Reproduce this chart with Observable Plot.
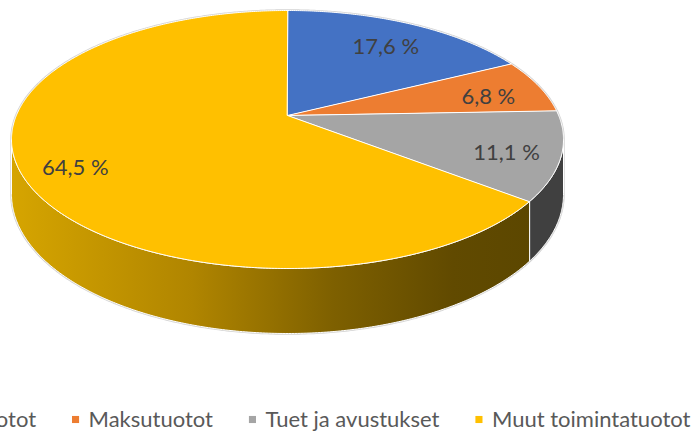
<!DOCTYPE html>
<html>
<head>
<meta charset="utf-8">
<script src="https://cdn.jsdelivr.net/npm/d3@7"></script>
<script src="https://cdn.jsdelivr.net/npm/@observablehq/plot@0.6"></script>
<style>
  html, body { margin: 0; padding: 0; background: #fff; overflow: hidden; }
</style>
</head>
<body>
<div id="chart"></div>
<script>
// ---- data ----
const categories = ["Myyntituotot", "Maksutuotot", "Tuet ja avustukset", "Muut toimintatuotot"];
const values = [17.6, 6.8, 11.1, 64.5];
const valueLabels = ["17,6 %", "6,8 %", "11,1 %", "64,5 %"];
const topColors = ["#4472C4", "#ED7D31", "#A5A5A5", "#FFC000"];
const sideColors = ["#2B4A80", "#9A501F", "#404040", "url(#sideGold)"];

// ---- layout ----
const W = 699, H = 432;
const cx = 287, apexY = 115, topY = 10, botY = 268, halfW = 276, depthFront = 65;
const k = (2 * apexY - topY - botY) / (topY - botY);
const dCoef = topY * (1 + k) - apexY;
const aCoef = halfW * Math.sqrt(1 - k * k);
const eCoef = depthFront * (1 - k);

function project(theta, r, z) {
  const u = r * Math.sin(theta), v = r * Math.cos(theta);
  const w = 1 + k * v;
  return {x: cx + aCoef * u / w, y: (apexY + dCoef * v + eCoef * z) / w};
}
function arc(a0, a1, z) {
  const n = Math.max(2, Math.ceil(Math.abs(a1 - a0) / (Math.PI / 360)));
  return d3.range(n + 1).map(i => project(a0 + (a1 - a0) * i / n, 1, z));
}

const total = d3.sum(values);
let acc = 0;
const slices = values.map((v, i) => {
  const a0 = acc / total * 2 * Math.PI;
  acc += v;
  const a1 = acc / total * 2 * Math.PI;
  return {i, a0, a1, mid: (a0 + a1) / 2};
});

const sil1 = Math.acos(-k), sil2 = 2 * Math.PI - Math.acos(-k);

// outline (silhouette)
const outline = [...arc(sil2, sil1 + 2 * Math.PI, 0), ...arc(sil1, sil2, 1)]
  .map(p => ({...p, id: "outline"}));

// side faces
const sideRows = [];
slices.forEach(s => {
  const a = Math.max(s.a0, sil1), b = Math.min(s.a1, sil2);
  if (a < b) {
    [...arc(a, b, 0), ...arc(b, a, 1)].forEach(p =>
      sideRows.push({...p, id: "side" + s.i, fill: sideColors[s.i]}));
  }
});

// top faces
const topRows = [];
slices.forEach(s => {
  [project(0, 0, 0), ...arc(s.a0, s.a1, 0)].forEach(p =>
    topRows.push({...p, id: "top" + s.i, fill: topColors[s.i]}));
});

// labels
const boxCy = (topY + botY) / 2;
const labelRows = slices.map(s => {
  const E = project(s.mid, 1, 0);
  return {x: cx + 0.8 * (E.x - cx), y: boxCy + 0.8 * (E.y - boxCy), text: valueLabels[s.i]};
});

// legend layout
const legendFont = "22px Lato";
const ctx = document.createElement("canvas").getContext("2d");
ctx.font = legendFont;
const markerSize = 7, markerGap = 9.5, itemGap = 36, legendCenter = 290, legendY = 419;
const widths = categories.map(c => ctx.measureText(c).width);
const legendTotal = d3.sum(widths) + categories.length * (markerSize + markerGap) + (categories.length - 1) * itemGap;
let lx = legendCenter - legendTotal / 2;
const legendRows = categories.map((c, i) => {
  const row = {mx: lx + markerSize / 2, tx: lx + markerSize + markerGap, y: legendY, name: c, color: topColors[i]};
  lx += markerSize + markerGap + widths[i] + itemGap;
  return row;
});

const chart = Plot.plot({
  width: W, height: H,
  margin: 0,
  x: {type: "identity", axis: null},
  y: {type: "identity", axis: null},
  color: {type: "identity"},
  style: {background: "#fff"},
  marks: [
    Plot.line(outline, {x: "x", y: "y", curve: "linear-closed", fill: "#fff", stroke: "#d3d3d3", strokeWidth: 2.5}),
    Plot.line(sideRows, {x: "x", y: "y", z: "id", fill: "fill", curve: "linear-closed", stroke: "#fff", strokeWidth: 1}),
    Plot.line(topRows, {x: "x", y: "y", z: "id", fill: "fill", curve: "linear-closed", stroke: "#fff", strokeWidth: 1}),
    Plot.text(labelRows, {x: "x", y: "y", text: "text", fontSize: 22, fontFamily: "Lato", fill: "#404040"}),
    Plot.dot(legendRows, {x: "mx", y: "y", symbol: "square", r: 4, fill: "color", stroke: null}),
    Plot.text(legendRows, {x: "tx", y: "y", text: "name", textAnchor: "start", fontSize: 22, fontFamily: "Lato", fill: "#595959"})
  ]
});

const defs = d3.select(chart).insert("defs", ":first-child");
const grad = defs.append("linearGradient")
  .attr("id", "sideGold").attr("gradientUnits", "userSpaceOnUse")
  .attr("x1", 10).attr("x2", 530).attr("y1", 0).attr("y2", 0);
[[0, "#D6A500"], [0.35, "#B08500"], [0.62, "#7E6000"], [0.85, "#614A00"], [1, "#5C4700"]]
  .forEach(([o, c]) => grad.append("stop").attr("offset", o).attr("stop-color", c));

document.getElementById("chart").appendChild(chart);
</script>
</body>
</html>
